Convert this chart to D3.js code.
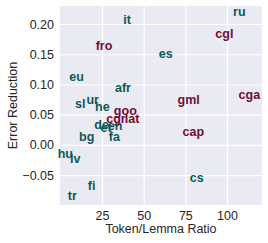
<!DOCTYPE html>
<html><head><meta charset="utf-8">
<script src="https://cdn.jsdelivr.net/npm/d3@7"></script>
<style>body{margin:0;background:#fff;} text{font-family:"Liberation Sans",Arial,sans-serif;}</style>
</head><body><svg id="c" width="268" height="243"></svg>
<script>
const labels = ["ru","it","cgl","fro","es","eu","afr","cga","gml","sl","ur","he","goo","cgr","lat","de","et","en","bg","fa","cap","hu","lv","cs","fi","tr"];
const ratio  = [107.4,40.0,98.4,26.2,63.2,9.8,37.6,113.4,77.0,12.0,19.4,25.2,39.0,33.4,43.0,24.8,27.4,32.8,15.8,32.4,79.8,3.0,9.0,81.8,18.8,7.2];
const errRed = [0.220,0.206,0.183,0.164,0.151,0.113,0.094,0.083,0.075,0.068,0.0745,0.062,0.056,0.043,0.043,0.033,0.028,0.031,0.013,0.013,0.0215,-0.0144,-0.023,-0.0546,-0.0674,-0.0844];
const group  = ["m","m","h","h","m","m","m","h","h","m","m","m","h","h","h","m","m","m","m","m","h","m","m","m","m","m"];
const xTicks = [25,50,75,100];
const yTicks = [-0.05,0.00,0.05,0.10,0.15,0.20];

const svg = d3.select("#c");
const L=60, R=262, T=6, B=205;
const x = d3.scaleLinear().domain([-0.2,121]).range([L,R]);
const y = d3.scaleLinear().domain([-0.0993,0.2298]).range([B,T]);
const color = {m:"#0b5a5a", h:"#730c35"};

svg.append("rect").attr("x",L).attr("y",T).attr("width",R-L).attr("height",B-T).attr("fill","#eaeaf2");
const gx = svg.append("g").attr("transform",`translate(0,${B})`)
  .call(d3.axisBottom(x).tickValues(xTicks).tickSize(-(B-T)).tickPadding(6).tickFormat(d3.format("d")));
const gy = svg.append("g").attr("transform",`translate(${L},0)`)
  .call(d3.axisLeft(y).tickValues(yTicks).tickSize(-(R-L)).tickPadding(6).tickFormat(d=>d3.format(".2f")(d).replace("-","\u2212")));
[gx,gy].forEach(g=>{
  g.select(".domain").remove();
  g.selectAll(".tick line").attr("stroke","#fff").attr("stroke-width",1.2);
  g.selectAll(".tick text").attr("fill","#262626").style("font-size","12.5px");
});
gx.selectAll(".tick text").attr("dy","0.71em");

svg.append("g").selectAll("text").data(labels).join("text")
  .attr("x",(d,i)=>x(ratio[i])).attr("y",(d,i)=>y(errRed[i]))
  .attr("text-anchor","middle").attr("dominant-baseline","central")
  .attr("fill",(d,i)=>color[group[i]]).style("font-weight","bold").style("font-size","12.5px")
  .text(d=>d);

svg.append("text").attr("x",(L+R)/2).attr("y",233).attr("text-anchor","middle")
  .attr("fill","#262626").style("font-size","12.5px").text("Token/Lemma Ratio");
svg.append("text").attr("transform",`translate(17,${(T+B)/2}) rotate(-90)`).attr("text-anchor","middle")
  .attr("fill","#262626").style("font-size","12.5px").text("Error Reduction");
</script></body></html>
